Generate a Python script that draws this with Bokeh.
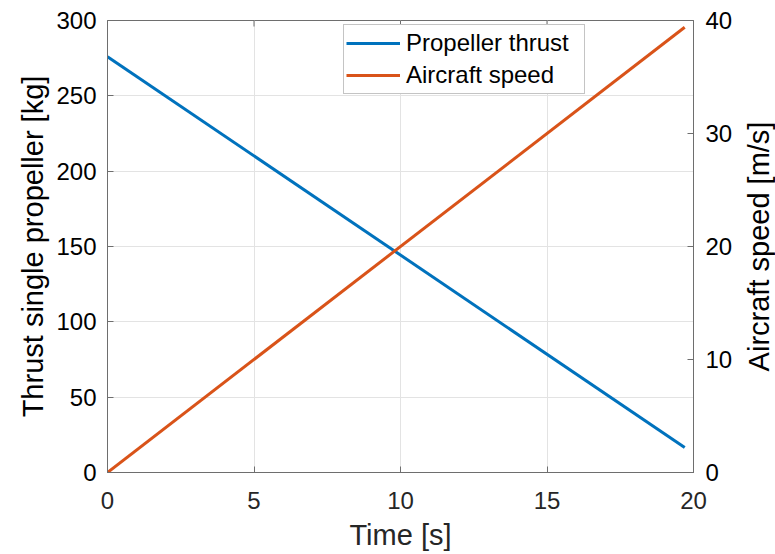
import math
from bokeh.plotting import figure
from bokeh.models import Range1d, LinearAxis, FixedTicker, Legend, LegendItem, Label
from bokeh.embed import file_html
from bokeh.resources import INLINE

# Simulation samples (start and end of the run)
time_s = [0.0, 19.7]
thrust_kg = [276.0, 16.6]
speed_ms = [0.0, 39.4]

x_ticks = [0, 5, 10, 15, 20]
thrust_ticks = [0, 50, 100, 150, 200, 250, 300]
speed_ticks = [0, 10, 20, 30, 40]

BLUE = "#0072BD"
ORANGE = "#D95319"
FONT = "Liberation Sans"
AXIS_COLOR = "#6e6e6e"
GRID_COLOR = "#e3e3e3"
TICK_PX = 6

X_MAX = 20
Y_MAX = 300
SPEED_MAX = 40

W, H = 775, 554
BORDER_L, BORDER_R, BORDER_T, BORDER_B = 107, 82, 20, 82
frame_w = W - BORDER_L - BORDER_R
frame_h = H - BORDER_T - BORDER_B

p = figure(
    width=W, height=H,
    output_backend="svg", toolbar_location=None,
    x_range=Range1d(0, X_MAX), y_range=Range1d(0, Y_MAX),
    min_border_left=BORDER_L, min_border_right=BORDER_R,
    min_border_top=BORDER_T, min_border_bottom=BORDER_B,
)
p.extra_y_ranges = {"speed": Range1d(0, SPEED_MAX)}
p.background_fill_color = "white"
p.border_fill_color = "white"
p.outline_line_color = AXIS_COLOR
p.outline_line_width = 1


def style_axis(ax, label, size_ticks="24px", size_label="29px", color="#000000"):
    ax.axis_label = label
    ax.axis_label_text_font = FONT
    ax.axis_label_text_font_size = size_label
    ax.axis_label_text_font_style = "normal"
    ax.axis_label_text_color = color
    ax.major_label_text_font = FONT
    ax.major_label_text_font_size = size_ticks
    ax.major_label_text_color = color
    ax.axis_line_color = AXIS_COLOR
    ax.major_tick_line_color = AXIS_COLOR
    ax.major_tick_in = TICK_PX
    ax.major_tick_out = 0
    ax.minor_tick_line_color = None


# Bottom axis
xa = p.xaxis[0]
xa.ticker = FixedTicker(ticks=x_ticks)
style_axis(xa, "Time [s]", color="#262626")
xa.major_label_standoff = 19
xa.axis_label_standoff = 7

# Left axis (thrust)
ya = p.yaxis[0]
ya.ticker = FixedTicker(ticks=thrust_ticks)
style_axis(ya, "Thrust single propeller [kg]")
ya.major_label_standoff = 11
ya.axis_label_standoff = 4

# Right axis (speed); its title is a separate rotated label reading upwards
ra = LinearAxis(y_range_name="speed", ticker=FixedTicker(ticks=speed_ticks))
style_axis(ra, None)
ra.major_label_standoff = 12
p.add_layout(ra, "right")

right_title = Label(
    x=X_MAX * (frame_w + 65) / frame_w, y=Y_MAX / 2,
    x_units="data", y_units="data",
    text="Aircraft speed [m/s]",
    angle=math.pi / 2,
    text_font=FONT, text_font_size="29px", text_color="#000000",
    text_align="center", text_baseline="alphabetic",
)
p.add_layout(right_title, "right")

# Grid
p.xgrid.ticker = FixedTicker(ticks=x_ticks)
p.ygrid.ticker = FixedTicker(ticks=thrust_ticks)
p.grid.grid_line_color = GRID_COLOR
p.grid.grid_line_width = 1

# Inward tick marks along the top edge of the box
tick_len = Y_MAX * TICK_PX / frame_h
p.segment(x0=x_ticks, x1=x_ticks, y0=[Y_MAX] * len(x_ticks),
          y1=[Y_MAX - tick_len] * len(x_ticks),
          line_color=AXIS_COLOR, line_width=1)

r_thrust = p.line(time_s, thrust_kg, line_color=BLUE, line_width=3)
r_speed = p.line(time_s, speed_ms, line_color=ORANGE, line_width=3, y_range_name="speed")

legend = Legend(
    items=[
        LegendItem(label="Propeller thrust", renderers=[r_thrust]),
        LegendItem(label="Aircraft speed", renderers=[r_speed]),
    ],
    location=(236, 378),
    label_text_font=FONT,
    label_text_font_size="24px",
    label_text_color="#000000",
    glyph_width=54,
    glyph_height=32,
    label_height=32,
    label_width=176,
    label_standoff=6,
    padding=2,
    spacing=0,
    margin=0,
    border_line_color="#8a8a8a",
    border_line_width=1,
    background_fill_color="white",
    background_fill_alpha=1.0,
)
p.add_layout(legend, "center")

open("out.html", "w").write(file_html(p, INLINE))
